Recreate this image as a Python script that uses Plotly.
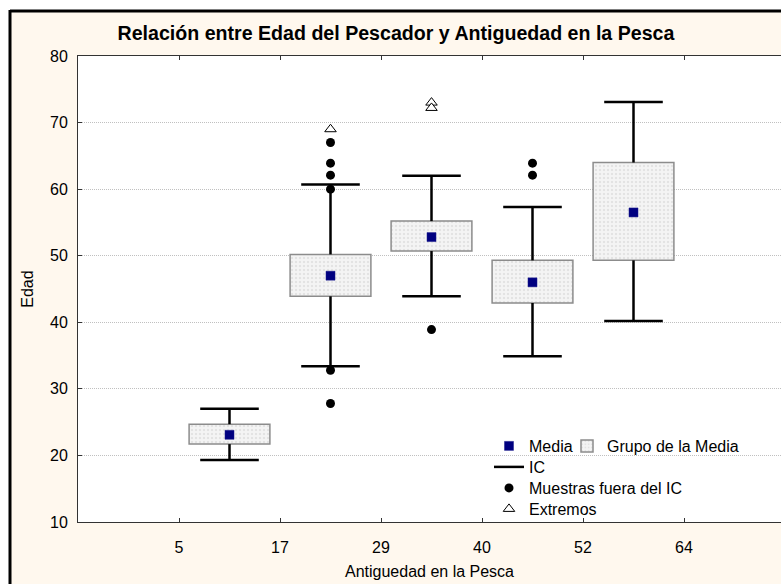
import numpy as np
import plotly.graph_objects as go

# limites de antiguedad (marcas del eje X)
cortes = [5, 17, 29, 40, 52, 64]

# por grupo de antiguedad
media = [23.1, 47.0, 52.8, 46.0, 56.5]
grupo_inf = [21.7, 43.9, 50.7, 42.9, 49.3]
grupo_sup = [24.7, 50.2, 55.2, 49.3, 64.0]
ic_inf = [19.3, 33.4, 43.9, 34.9, 40.2]
ic_sup = [27.0, 60.7, 62.0, 57.3, 73.1]

# muestras fuera del IC (indice de grupo, edad)
fuera_grupo = [1, 1, 1, 1, 1, 1, 2, 3, 3]
fuera_edad = [67.0, 63.9, 62.1, 60.0, 32.8, 27.8, 38.9, 63.9, 62.1]

# extremos
ext_grupo = [1, 2, 2]
ext_edad = [69.0, 73.0, 72.2]

FONT = "Liberation Sans, Arial, sans-serif"
CREAM = "#FFF8EE"

pos = np.arange(len(media)) + 1.5
cap = 0.29

# segmentos del IC: bigote inferior, bigote superior y sus topes
wx, wy = [], []
for p, gi, gs, li, ls in zip(pos, grupo_inf, grupo_sup, ic_inf, ic_sup):
    wx += [p, p, None, p, p, None, p - cap, p + cap, None, p - cap, p + cap, None]
    wy += [gi, li, None, gs, ls, None, li, li, None, ls, ls, None]

fig = go.Figure()

fig.add_trace(go.Bar(
    x=pos,
    y=np.array(grupo_sup) - np.array(grupo_inf),
    base=grupo_inf,
    width=0.8,
    name="Grupo de la Media",
    marker=dict(
        color="#F0F0F0",
        line=dict(color="#8C8C8C", width=1.5),
        pattern=dict(shape=".", fgcolor="#D2D2D2", bgcolor="#F4F4F4", size=4, solidity=0.3),
    ),
    legend="legend3",
))

fig.add_trace(go.Scatter(
    x=wx, y=wy, mode="lines",
    line=dict(color="black", width=2.5),
    name="IC",
    legend="legend2",
))

fig.add_trace(go.Scatter(
    x=pos, y=media, mode="markers",
    marker=dict(symbol="square", size=9, color="#000080", line=dict(color="#1A1A8C", width=0.5)),
    name="Media",
    legend="legend",
))

fig.add_trace(go.Scatter(
    x=pos[fuera_grupo], y=fuera_edad, mode="markers",
    marker=dict(symbol="circle", size=9, color="black"),
    name="Muestras fuera del IC",
    legend="legend4",
))

fig.add_trace(go.Scatter(
    x=pos[ext_grupo], y=ext_edad, mode="markers",
    marker=dict(symbol="triangle-up", size=10, color="white", line=dict(color="black", width=1)),
    name="Extremos",
    legend="legend5",
))

# marco exterior: franja blanca arriba/izquierda y borde negro
L, T, W, H = 78, 56, 703, 466
px = lambda X: (X - L) / W
py = lambda Y: (T + H - Y) / H
shapes = [
    dict(type="rect", xref="paper", yref="paper", x0=px(0), x1=px(781), y0=py(10), y1=py(0),
         fillcolor="white", line_width=0, layer="below"),
    dict(type="rect", xref="paper", yref="paper", x0=px(0), x1=px(10), y0=py(584), y1=py(0),
         fillcolor="white", line_width=0, layer="below"),
    dict(type="line", xref="paper", yref="paper", x0=px(10), x1=px(781), y0=py(11), y1=py(11),
         line=dict(color="black", width=3)),
    dict(type="line", xref="paper", yref="paper", x0=px(10), x1=px(10), y0=py(10), y1=py(584),
         line=dict(color="black", width=3)),
]

leg = dict(bgcolor="rgba(0,0,0,0)", font=dict(size=16), itemclick=False, xanchor="left", yanchor="top")

fig.update_layout(
    width=781, height=584,
    margin=dict(l=L, r=0, t=T, b=584 - T - H),
    paper_bgcolor=CREAM,
    plot_bgcolor="white",
    font=dict(family=FONT, size=16, color="black"),
    title=dict(
        text="<b>Relación entre Edad del Pescador y Antiguedad en la Pesca</b>",
        x=0.507, xref="container", xanchor="center",
        y=1 - 33 / 584, yref="container", yanchor="middle",
        font=dict(size=19.6, color="black"),
    ),
    xaxis=dict(
        range=[0, W / 101], tickvals=list(range(1, len(cortes) + 1)), ticktext=[str(c) for c in cortes],
        showgrid=False, zeroline=False,
        showline=True, linecolor="#333333", linewidth=1, mirror="ticks",
        ticks="inside", ticklen=4, tickcolor="#333333",
        ticklabelstandoff=11,
        title=dict(text="Antiguedad en la Pesca", standoff=10, font=dict(size=16)),
    ),
    yaxis=dict(
        range=[10, 80], tickvals=list(range(10, 90, 10)),
        showgrid=True, gridcolor="#C0C0C0", griddash="1px,1px", gridwidth=1,
        zeroline=False,
        showline=True, linecolor="#333333", linewidth=1,
        ticks="inside", ticklen=4, tickcolor="#333333",
        ticklabelstandoff=6,
        title=dict(text="Edad", standoff=12, font=dict(size=16)),
    ),
    legend=dict(leg, x=px(489), y=py(429)),
    legend3=dict(leg, x=px(567), y=py(429)),
    legend2=dict(leg, x=px(489), y=py(450)),
    legend4=dict(leg, x=px(489), y=py(471)),
    legend5=dict(leg, x=px(489), y=py(492)),
    shapes=shapes,
    showlegend=True,
)

fig.write_html(
    "out.html",
    config={"displayModeBar": False},
    post_script="document.body.style.margin='0px';",
)
